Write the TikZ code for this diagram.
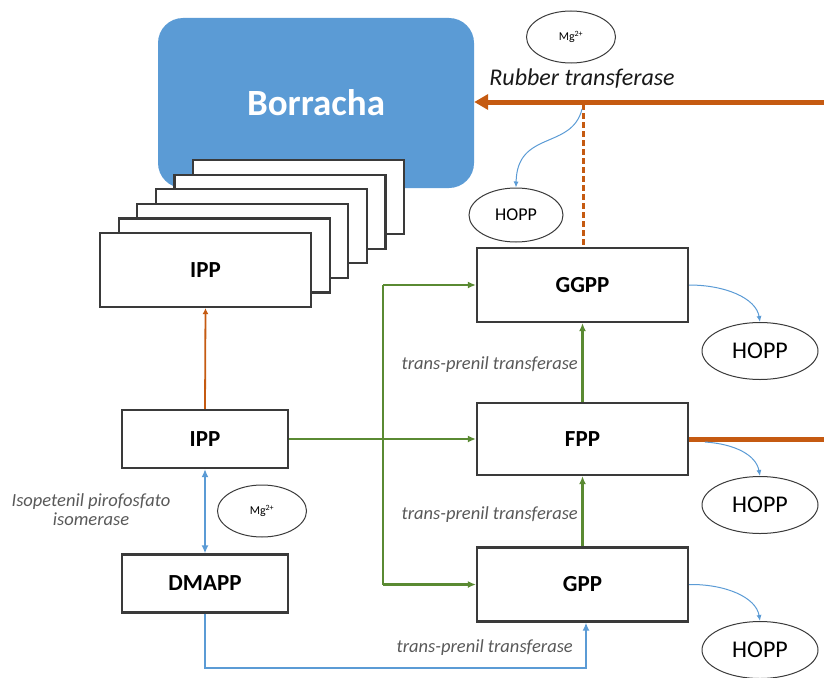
\documentclass[tikz,border=0pt]{standalone}
\usepackage{fontspec}
\setmainfont{Carlito}
\usetikzlibrary{arrows.meta,shapes.geometric}
\definecolor{bblue}{HTML}{5B9BD5}
\definecolor{oorange}{HTML}{C55A11}
\definecolor{ggreen}{HTML}{5A8A32}
\definecolor{bord}{HTML}{3A3A3A}
\definecolor{lab}{HTML}{595959}
\tikzset{
  molbox/.style={draw=bord,line width=2.2pt,fill=white,minimum width=211pt,minimum height=74pt,inner sep=0pt,font=\fontsize{23}{25}\selectfont\bfseries},
  smallbox/.style={draw=bord,line width=2.2pt,fill=white,minimum width=166pt,minimum height=58pt,inner sep=0pt,font=\fontsize{23}{25}\selectfont\bfseries},
  ion/.style={ellipse,draw=bord,line width=1pt,minimum width=89pt,minimum height=52pt,inner sep=0pt,font=\fontsize{12}{14}\selectfont},
  hopp/.style={ellipse,draw=bord,line width=1pt,minimum width=116pt,minimum height=57pt,inner sep=0pt,font=\fontsize{24}{26}\selectfont},
  hoppsm/.style={ellipse,draw=bord,line width=1pt,minimum width=94pt,minimum height=54pt,inner sep=0pt,font=\fontsize{18}{20}\selectfont},
  enz/.style={font=\fontsize{18.5}{20}\selectfont\itshape,text=lab,inner sep=1pt},
  gline/.style={draw=ggreen,line width=2.2pt,-{Latex[length=8pt,width=7pt]}},
  bthin/.style={draw=bblue,line width=1pt,-{Latex[length=6pt,width=5pt]}},
}
\begin{document}
\begin{tikzpicture}[x=1pt,y=-1pt]
\useasboundingbox (0,0) rectangle (824,677);
% Borracha
\node[fill=bblue,rounded corners=25pt,minimum width=316pt,minimum height=170pt,inner sep=0pt,text=white,font=\fontsize{37}{40}\selectfont\bfseries] (bor) at (316,103) {Borracha};
% stacked boxes
\foreach \k in {5,4,3,2,1}{
  \node[molbox] (s\k) at ({205.5+18.6*\k},{270-14.6*\k}) {};
}
\node[molbox] (ipps) at (205.5,270) {IPP};
% left column
\node[smallbox] (ipp) at (205,439) {IPP};
\node[smallbox] (dmapp) at (205,583.5) {DMAPP};
% right column
\node[molbox] (ggpp) at (582.5,285) {GGPP};
\node[molbox,minimum height=72pt] (fpp) at (582.5,439) {FPP};
\node[molbox] (gpp) at (582.5,584.5) {GPP};
% ellipses
\node[ion] (mg1) at (571,37) {Mg\textsuperscript{2+}};
\node[ion] (mg2) at (262,511) {Mg\textsuperscript{2+}};
\node[hoppsm] (h0) at (516,215) {HOPP};
\node[hopp] (h1) at (760,351) {HOPP};
\node[hopp] (h2) at (760,505) {HOPP};
\node[hopp] (h3) at (760,650) {HOPP};
% coordinates
\coordinate (rin) at (824,102);
\coordinate (rj) at (583.5,104);
\coordinate (fout) at (824,439);
\coordinate (gx) at (383,439);
\coordinate (bl) at (205,668);
\coordinate (br) at (586,668);
% orange
\draw[draw=oorange,line width=5pt,-{Triangle[length=14pt,width=15pt]}] (rin) -- (bor.east |- rin);
\draw[draw=oorange,line width=2.2pt,dash pattern=on 6pt off 3pt] (rj) -- (ggpp.north -| rj);
\draw[draw=oorange,line width=1.8pt,-{Latex[length=6pt,width=6pt]}] (ipp.north) -- (ipps.south);
\draw[draw=oorange,line width=5pt] (fpp.east) -- (fout);
\node[font=\fontsize{24}{26}\selectfont\itshape,text=black!90] (rt) at (582,79) {Rubber transferase};
% green
\draw[gline] (ipp.east) -- (fpp.west);
\draw[draw=ggreen,line width=2.2pt] (gx |- ggpp.west) -- (gx |- gpp.west);
\draw[gline] (gx |- ggpp.west) -- (ggpp.west);
\draw[gline] (gx |- gpp.west) -- (gpp.west);
\draw[gline] (gpp.north) -- (fpp.south);
\draw[gline] (fpp.north) -- (ggpp.south);
\node[enz,anchor=east] (t1) at (579,365) {trans-prenil transferase};
\node[enz,anchor=east] (t2) at (579,515) {trans-prenil transferase};
% blue
\draw[draw=bblue,line width=2.4pt,{Latex[length=8pt,width=7pt]}-{Latex[length=8pt,width=7pt]}] (ipp.south) -- (dmapp.north);
\draw[draw=bblue,line width=2pt,-{Latex[length=8pt,width=7pt]}] (dmapp.south) -- (bl) -- (br) -- (br |- gpp.south);
\node[enz,anchor=east] (t3) at (574,648) {trans-prenil transferase};
\node[enz,align=center] (iso) at (91,510) {Isopetenil pirofosfato\\[-1pt]isomerase};
% thin blue curves
\draw[bthin] (582,109) .. controls (572,150) and (517,130) .. (h0.north);
\draw[bthin] (ggpp.east) .. controls (725,285) and (756,298) .. (h1.north);
\draw[bthin] (705,442) .. controls (735,444) and (756,455) .. (h2.north);
\draw[bthin] (gpp.east) .. controls (725,584) and (756,597) .. (h3.north);
\end{tikzpicture}
\end{document}
